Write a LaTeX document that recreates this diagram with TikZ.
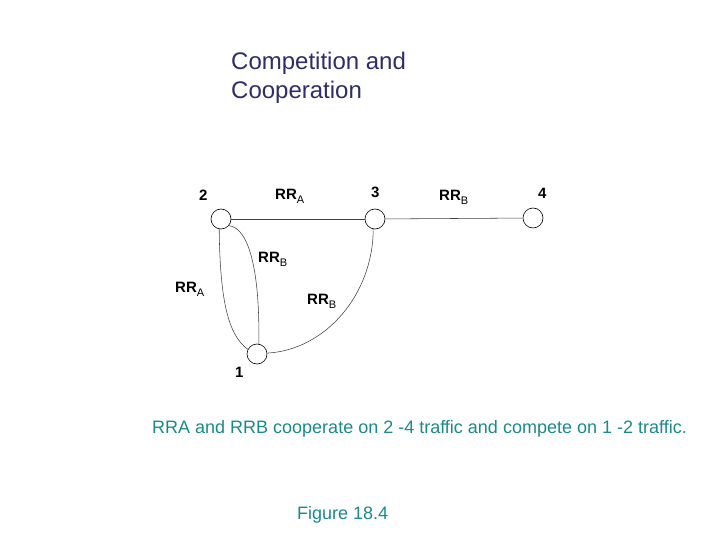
\documentclass[tikz,border=0pt]{standalone}
\usepackage{fontspec}
\setmainfont{Liberation Sans}
\usetikzlibrary{positioning, calc}
\definecolor{titleblue}{RGB}{45,45,105}
\definecolor{capteal}{RGB}{25,138,138}
\newcommand{\rrsub}[1]{\textbf{RR}\raisebox{-4pt}{\fontsize{11}{11}\selectfont\mdseries #1}}

\begin{document}
\begin{tikzpicture}[x=1pt, y=-1pt,
    vertex/.style={circle, draw, line width=0.6pt, minimum size=20pt, inner sep=0pt},
    link/.style={line width=0.55pt, black!75},
    lbl/.style={anchor=base west, inner sep=0pt, font=\fontsize{15}{15}\selectfont\bfseries}]
    \useasboundingbox (0,0) rectangle (720,540);
    % Title
    \node[anchor=base west, inner sep=0pt, text=titleblue, font=\fontsize{24}{29}\selectfont] (title1) at (231,70) {Competition and};
    \node[anchor=base west, inner sep=0pt, text=titleblue, font=\fontsize{24}{29}\selectfont] (title2) at (231,99) {Cooperation};
    % Routers
    \node[vertex] (n2) at (221,219) {};
    \node[vertex] (n3) at (375,219) {};
    \node[vertex] (n4) at (533,218) {};
    \node[vertex] (n1) at (257,354) {};
    % Router numbers
    \node[lbl] (num2) at (199,201) {2};
    \node[lbl] (num3) at (371,197) {3};
    \node[lbl] (num4) at (538,199) {4};
    \node[lbl] (num1) at (235,377) {1};
    % Links
    \draw[link] (n2) -- (n3);
    \draw[link] (n3) -- (n4);
    \draw[link] (n2.-100) .. controls (220,300) and (228,335) .. (n1.153);
    \draw[link] (n2.-40) .. controls (250,228) and (260,275) .. (n1.80);
    \draw[link] (n3.-100) .. controls (373,295) and (325,350) .. (n1.5);
    % Link labels
    \node[lbl] (rrA23) at (275,200) {\rrsub{A}};
    \node[lbl] (rrB34) at (439,201) {\rrsub{B}};
    \node[lbl] (rrB21) at (258,262) {\rrsub{B}};
    \node[lbl] (rrA21) at (175,292) {\rrsub{A}};
    \node[lbl] (rrB31) at (307,304) {\rrsub{B}};
    % Caption
    \node[anchor=base west, inner sep=0pt, text=capteal, font=\fontsize{18}{18}\selectfont] (caption) at (152,433)
        {RRA and RRB cooperate on 2 -4 traffic and compete on 1 -2 traffic.};
    \node[anchor=base west, inner sep=0pt, text=capteal, font=\fontsize{18}{18}\selectfont] (figno) at (297,519) {Figure 18.4};
\end{tikzpicture}
\end{document}
